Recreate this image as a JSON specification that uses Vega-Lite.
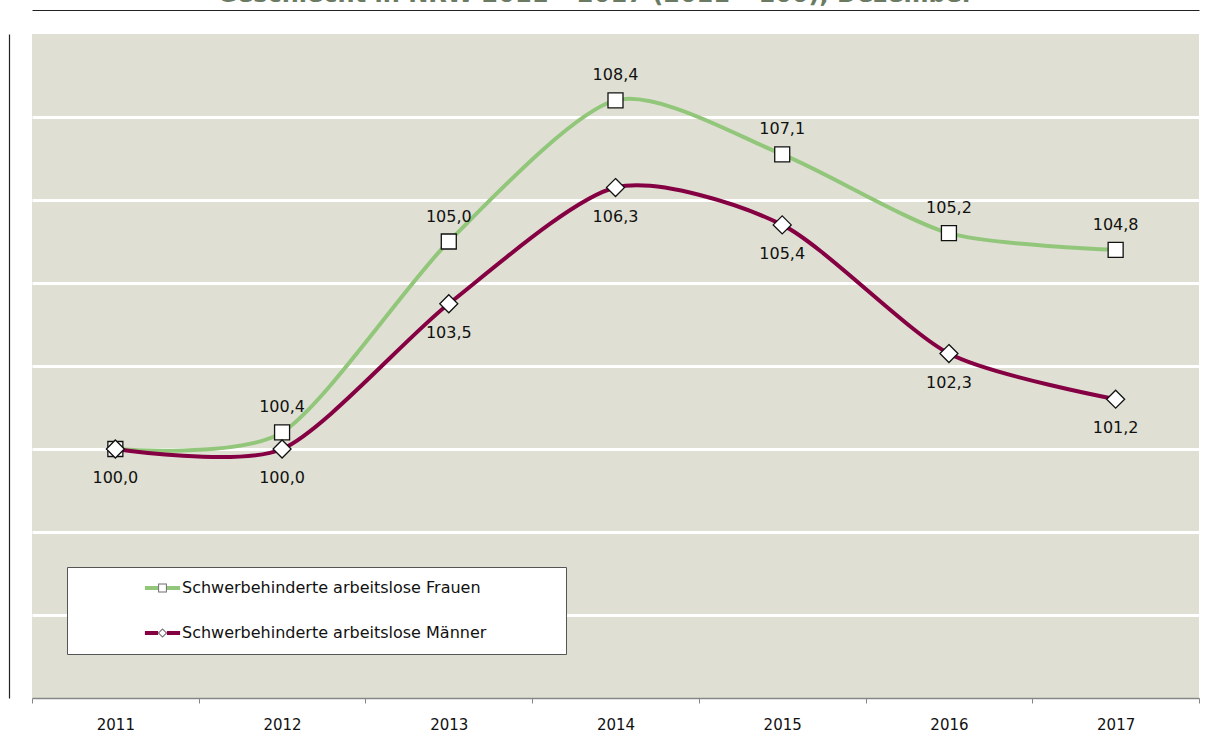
{
  "$schema": "https://vega.github.io/schema/vega-lite/v6.json",
  "width": 1167,
  "height": 664,
  "autosize": {"type": "none"},
  "padding": {"left": 32, "top": 34, "right": 15, "bottom": 51},
  "background": "white",
  "title": {
    "text": "Geschlecht in NRW 2011 – 2017 (2011 =100), Dezember",
    "font": "DejaVu Sans",
    "fontSize": 24,
    "fontWeight": "bold",
    "color": "#6B7A62",
    "anchor": "middle",
    "baseline": "alphabetic",
    "offset": 3,
    "dy": 19,
    "dx": -20
  },
  "config": {
    "view": {"fill": "#DFE0D3", "stroke": null},
    "locale": {
      "number": {"decimal": ",", "thousands": ".", "grouping": [3], "currency": ["", " €"]}
    }
  },
  "data": {
    "values": [
      {"year": "2011", "series": "Schwerbehinderte arbeitslose Frauen", "value": 100.0},
      {"year": "2012", "series": "Schwerbehinderte arbeitslose Frauen", "value": 100.4},
      {"year": "2013", "series": "Schwerbehinderte arbeitslose Frauen", "value": 105.0},
      {"year": "2014", "series": "Schwerbehinderte arbeitslose Frauen", "value": 108.4},
      {"year": "2015", "series": "Schwerbehinderte arbeitslose Frauen", "value": 107.1},
      {"year": "2016", "series": "Schwerbehinderte arbeitslose Frauen", "value": 105.2},
      {"year": "2017", "series": "Schwerbehinderte arbeitslose Frauen", "value": 104.8},
      {"year": "2011", "series": "Schwerbehinderte arbeitslose Männer", "value": 100.0},
      {"year": "2012", "series": "Schwerbehinderte arbeitslose Männer", "value": 100.0},
      {"year": "2013", "series": "Schwerbehinderte arbeitslose Männer", "value": 103.5},
      {"year": "2014", "series": "Schwerbehinderte arbeitslose Männer", "value": 106.3},
      {"year": "2015", "series": "Schwerbehinderte arbeitslose Männer", "value": 105.4},
      {"year": "2016", "series": "Schwerbehinderte arbeitslose Männer", "value": 102.3},
      {"year": "2017", "series": "Schwerbehinderte arbeitslose Männer", "value": 101.2}
    ]
  },
  "resolve": {"axis": {"x": "independent", "y": "independent"}},
  "layer": [
    {
      "mark": {"type": "line", "interpolate": "cardinal", "tension": 0.25, "strokeWidth": 4},
      "encoding": {
        "x": {
          "field": "year", "type": "ordinal",
          "scale": {"type": "band", "paddingInner": 0, "paddingOuter": 0},
          "axis": {
            "orient": "bottom", "title": null, "labelAngle": 0, "tickBand": "extent",
            "domainColor": "#868686", "tickColor": "#868686", "tickSize": 5, "domainWidth": 1.5,
            "labelFont": "DejaVu Sans", "labelFontSize": 15, "labelColor": "#111", "labelPadding": 14, "grid": false
          }
        },
        "y": {
          "field": "value", "type": "quantitative",
          "scale": {"domain": [94, 110], "nice": false, "zero": false},
          "axis": {
            "orient": "left", "title": null, "grid": true, "gridColor": "white", "gridWidth": 3, "gridOpacity": 1,
            "domain": false, "ticks": false, "labels": false,
            "values": [96, 98, 100, 102, 104, 106, 108]
          }
        },
        "color": {
          "field": "series", "type": "nominal",
          "scale": {
            "domain": ["Schwerbehinderte arbeitslose Frauen", "Schwerbehinderte arbeitslose Männer"],
            "range": ["#92C77B", "#850043"]
          },
          "legend": {
            "orient": "none", "legendX": 35, "legendY": 533, "title": null,
            "symbolType": "M-3.2,0H-0.8M0.8,0H3.2", "symbolSize": 121, "symbolStrokeWidth": 4, "symbolOffset": 74.5,
            "padding": 13, "rowPadding": 29, "labelOffset": 11.5,
            "labelFont": "DejaVu Sans", "labelFontSize": 16, "labelColor": "#111", "labelLimit": 0,
            "labelExpr": "datum.label + '\u00a0\u00a0\u00a0\u00a0\u00a0\u00a0\u00a0\u00a0\u00a0\u00a0\u00a0\u00a0\u00a0\u200b'",
            "fillColor": "white", "strokeColor": "#555"
          }
        }
      }
    },
    {
      "transform": [{"filter": "datum.series === 'Schwerbehinderte arbeitslose Frauen'"}],
      "mark": {"type": "point", "shape": "M-0.75,-0.75H0.75V0.75H-0.75Z", "filled": true, "fill": "white", "stroke": "#111", "strokeWidth": 1.3, "size": 400, "opacity": 1},
      "encoding": {
        "x": {
          "field": "year", "type": "ordinal",
          "axis": {"orient": "top", "offset": 24, "labels": false, "ticks": false, "title": null, "grid": false, "domainColor": "#222", "domainWidth": 1.2}
        },
        "y": {
          "field": "value", "type": "quantitative",
          "axis": {"orient": "left", "offset": 23, "labels": false, "ticks": false, "title": null, "grid": false, "domainColor": "#222", "domainWidth": 1.2}
        }
      }
    },
    {
      "transform": [{"filter": "datum.series === 'Schwerbehinderte arbeitslose Männer'"}],
      "mark": {"type": "point", "shape": "M0,-0.9L0.9,0L0,0.9L-0.9,0Z", "filled": true, "fill": "white", "stroke": "#111", "strokeWidth": 1.3, "size": 400, "opacity": 1},
      "encoding": {
        "x": {"field": "year", "type": "ordinal", "axis": null},
        "y": {"field": "value", "type": "quantitative", "axis": null}
      }
    },
    {
      "mark": {"type": "point", "filled": true, "fill": "#333", "strokeWidth": 0, "size": 0},
      "encoding": {
        "x": {"field": "year", "type": "ordinal", "axis": null},
        "y": {"field": "value", "type": "quantitative", "axis": null},
        "shape": {
          "field": "series", "type": "nominal",
          "scale": {"range": [
            "M-0.8,-0.8H0.8V0.8H-0.8ZM-0.62,-0.62V0.62H0.62V-0.62Z",
            "M0,-0.85L0.85,0L0,0.85L-0.85,0ZM0,-0.6L-0.6,0L0,0.6L0.6,0Z"
          ]},
          "legend": {
            "orient": "none", "legendX": 35, "legendY": 533, "title": null,
            "symbolSize": 121, "symbolOffset": 74.5,
            "padding": 13, "rowPadding": 29, "labelOffset": 11.5,
            "labelFont": "DejaVu Sans", "labelFontSize": 16, "labelOpacity": 0, "labelLimit": 0
          }
        }
      }
    },
    {
      "transform": [{"filter": "datum.series === 'Schwerbehinderte arbeitslose Frauen' && datum.year !== '2011'"}],
      "mark": {"type": "text", "font": "DejaVu Sans", "fontSize": 16, "color": "#111", "baseline": "middle", "dy": -25},
      "encoding": {
        "x": {"field": "year", "type": "ordinal", "axis": null},
        "y": {"field": "value", "type": "quantitative", "axis": null},
        "text": {"field": "value", "type": "quantitative", "format": ".1f"}
      }
    },
    {
      "transform": [{"filter": "datum.series === 'Schwerbehinderte arbeitslose Männer'"}],
      "mark": {"type": "text", "font": "DejaVu Sans", "fontSize": 16, "color": "#111", "baseline": "middle", "dy": 29},
      "encoding": {
        "x": {"field": "year", "type": "ordinal", "axis": null},
        "y": {"field": "value", "type": "quantitative", "axis": null},
        "text": {"field": "value", "type": "quantitative", "format": ".1f"}
      }
    }
  ]
}
